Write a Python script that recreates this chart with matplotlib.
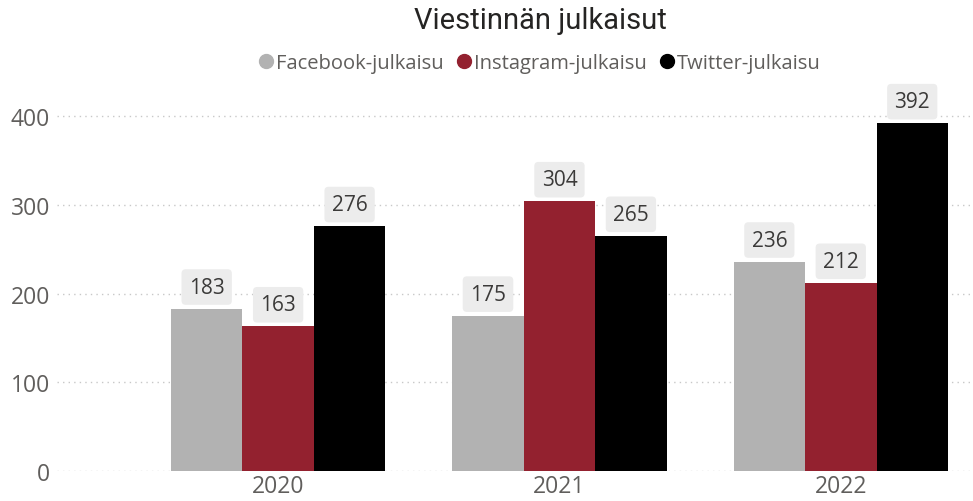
import numpy as np
import matplotlib
matplotlib.use("Agg")
import matplotlib.pyplot as plt
from matplotlib.lines import Line2D

years = ["2020", "2021", "2022"]
series = ["Facebook-julkaisu", "Instagram-julkaisu", "Twitter-julkaisu"]
facebook = [183, 175, 236]
instagram = [163, 304, 212]
twitter = [276, 265, 392]
colors = ["#b2b2b2", "#93212f", "#000000"]

plt.rcParams["font.family"] = ["Open Sans", "DejaVu Sans"]

fig = plt.figure(figsize=(9.73, 5.02), dpi=100)
ax = fig.add_axes([0.0586, 0.0598, 0.9414, 0.751])

x = np.arange(len(years))
w = 0.254
for i, (vals, c) in enumerate(zip([facebook, instagram, twitter], colors)):
    pos = x + (i - 1) * w
    ax.bar(pos, vals, w, color=c, zorder=2)
    for px, v in zip(pos, vals):
        ax.annotate(str(v), (px, v), xytext=(0, 8), textcoords="offset points",
                    ha="center", va="bottom", fontsize=15, color="#3b3a39",
                    bbox=dict(boxstyle="round,pad=0.35,rounding_size=0.2",
                              fc="#ececec", ec="none"), zorder=3)

ax.set_xlim(-0.786, 2.47)
ax.set_ylim(0, 425)
ax.set_yticks([0, 100, 200, 300, 400])
ax.set_xticks(x)
ax.set_xticklabels(years)
ax.tick_params(axis="both", length=0, labelsize=16.5, labelcolor="#605e5c")
ax.tick_params(axis="y", pad=5)
ax.tick_params(axis="x", pad=2)
ax.grid(axis="y", color="#c8c8c8", linestyle=(0, (1, 3)), linewidth=1, zorder=0)
for s in ax.spines.values():
    s.set_visible(False)

fig.text(0.555, 0.958, "Viestinnän julkaisut", ha="center", va="center",
         fontsize=21, color="#252423", family=["Roboto", "DejaVu Sans"])

handles = [Line2D([], [], marker="o", linestyle="none", markersize=10,
                  markerfacecolor=c, markeredgecolor=c) for c in colors]
fig.legend(handles, series, loc="center", bbox_to_anchor=(0.553, 0.873),
           ncol=3, frameon=False, fontsize=14.5, labelcolor="#605e5c",
           handletextpad=0.0, columnspacing=0.5, handlelength=1.0)

fig.savefig("out.png", dpi=100)
